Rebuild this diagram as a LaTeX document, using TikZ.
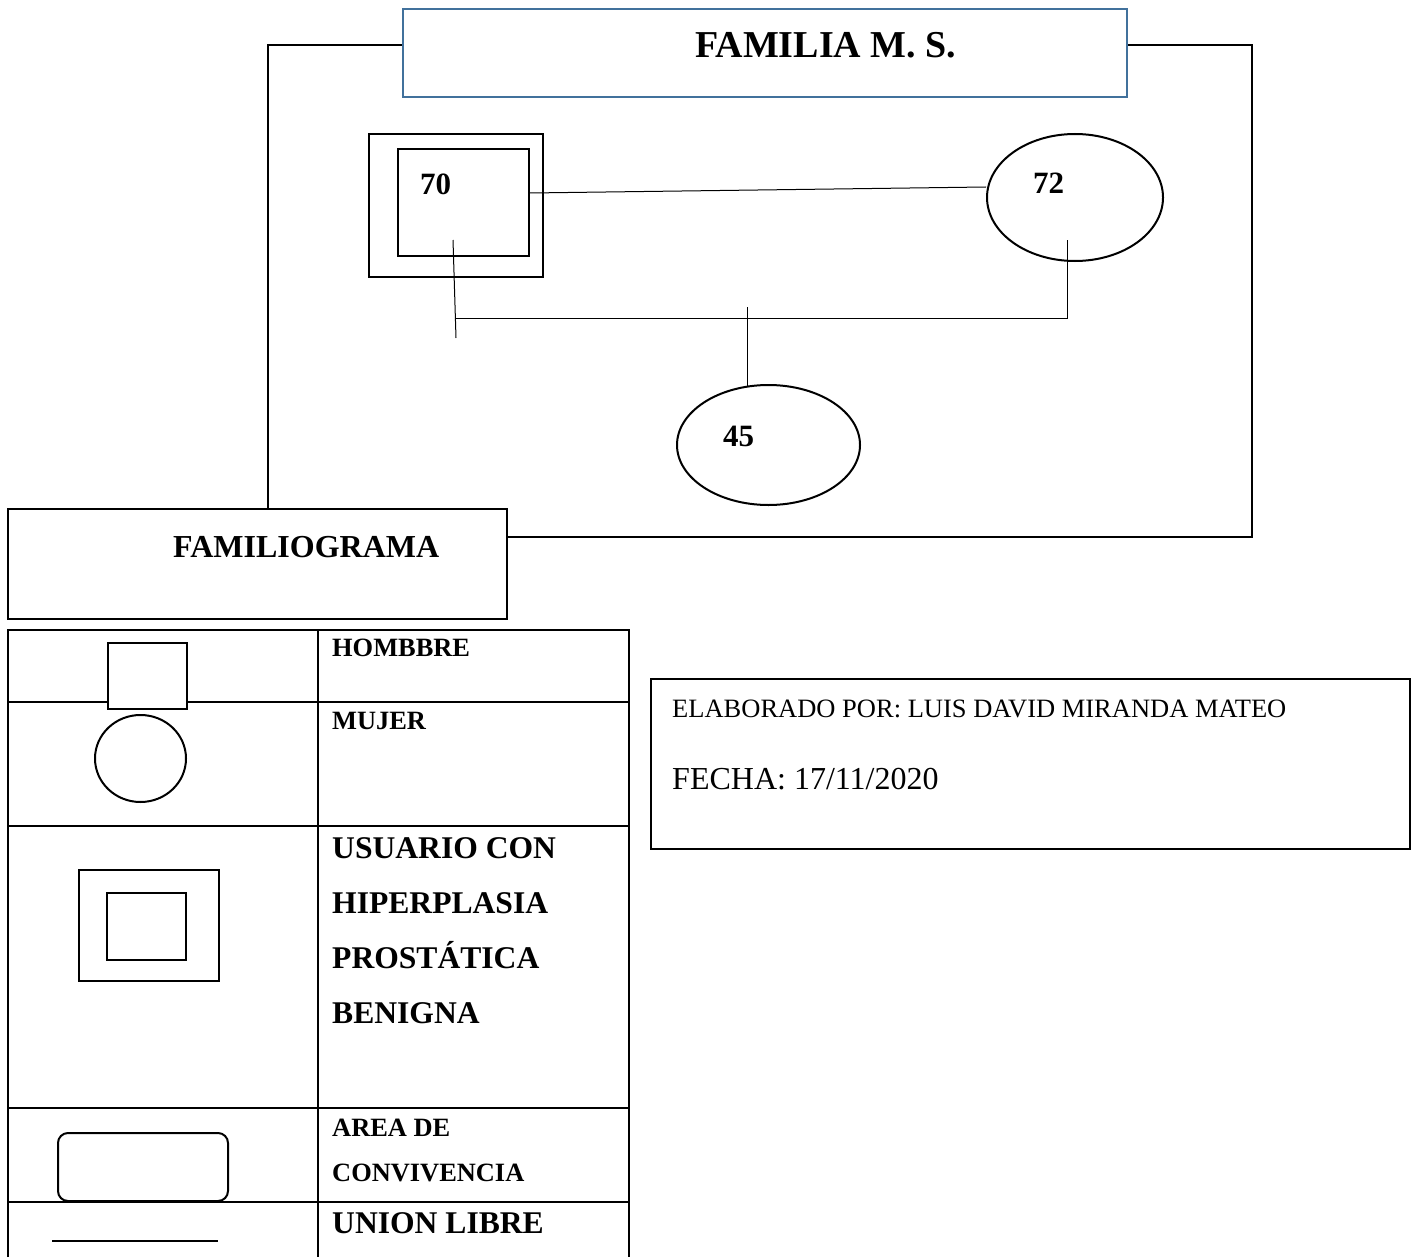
\documentclass[tikz,border=0pt]{standalone}
\usepackage{fontspec}
\setmainfont{Liberation Serif}
\usetikzlibrary{shapes.geometric}
\definecolor{titleblue}{RGB}{65,113,156}
\begin{document}
\begin{tikzpicture}[x=1pt,y=-1pt,
  frame/.style={line width=2pt},
  conn/.style={line width=1pt},
  box/.style={draw, line width=2pt, rectangle, inner sep=0pt, fill=white},
  oval/.style={draw, line width=2pt, ellipse, inner sep=0pt},
  lbl/.style={anchor=base west, inner sep=0pt, font={\bfseries\fontsize{#1}{#1}\selectfont}},
  plain/.style={anchor=base west, inner sep=0pt, font={\fontsize{#1}{#1}\selectfont}}]
\useasboundingbox (0,0) rectangle (1412,1257);

% --- frame ---
\node[box, draw=titleblue, minimum width=724, minimum height=88] (title) at (765,53) {};
\node[box, minimum width=499, minimum height=110] (fam) at (257.5,564) {};
\coordinate (tl) at (268,45);
\coordinate (tr) at (1252,45);
\coordinate (br) at (1252,537);
\draw[frame] (fam.north -| tl) -- (tl) -- (tl -| title.west);
\draw[frame] (title.east |- tr) -- (tr) -- (br) -- (br -| fam.east);
\node[lbl=38] (titletext) at (695,58) {FAMILIA M. S.};
\node[lbl=32] (famtext) at (173,557) {FAMILIOGRAMA};

% --- family members ---
\node[box, minimum width=174, minimum height=143] (p70out) at (456,205.5) {};
\node[box, minimum width=131, minimum height=107] (p70) at (463.5,202.5) {};
\node[oval, minimum width=176, minimum height=127] (p72) at (1075,197.5) {};
\node[oval, minimum width=183, minimum height=120] (p45) at (768.5,445) {};
\node[lbl=31] (t70) at (420,195) {70};
\node[lbl=31] (t72) at (1033,194) {72};
\node[lbl=31] (t45) at (723,446) {45};

% --- connectors ---
\draw[conn] ([yshift=9.5pt]p70.east) -- ([yshift=10.5pt]p72.west);
\coordinate (a1) at (453,240);
\coordinate (a2) at (456,338);
\coordinate (h1) at (456,318);
\coordinate (h2) at (1067,318);
\coordinate (b1) at (1067,240);
\coordinate (m1) at (747,307);
\coordinate (m2) at (747,386);
\draw[conn] (a1) -- (a2);
\draw[conn] (h1) -- (h2) -- (b1);
\draw[conn] (m1) -- (m2);

% --- legend table ---
\draw[frame] (8,1257) -- (8,630) -- (629,630) -- (629,1257);
\draw[frame] (318,630) -- (318,1257);
\draw[frame] (8,702) -- (629,702);
\draw[frame] (8,826) -- (629,826);
\draw[frame] (8,1108) -- (629,1108);
\draw[frame] (8,1202) -- (629,1202);

\node[box, minimum width=79, minimum height=66] (lgH) at (147.5,676) {};
\node[oval, minimum width=91, minimum height=87] (lgM) at (140.5,758.5) {};
\node[box, minimum width=140, minimum height=111] (lgUo) at (149,925.5) {};
\node[box, minimum width=79, minimum height=67] (lgUi) at (146.5,926.5) {};
\node[box, rounded corners=10pt, minimum width=170, minimum height=68] (lgA) at (143,1167) {};
\coordinate (u1) at (52,1241);
\coordinate (u2) at (218,1241);
\draw[line width=1.5pt] (u1) -- (u2);

\node[lbl=26.4] at (332,656) {HOMBBRE};
\node[lbl=26.4] at (332,729) {MUJER};
\node[lbl=31.6] at (332,858) {USUARIO CON};
\node[lbl=31.6] at (332,913) {HIPERPLASIA};
\node[lbl=31.6] at (332,968) {PROSTÁTICA};
\node[lbl=31.6] at (332,1023) {BENIGNA};
\node[lbl=26.4] at (332,1136) {AREA DE};
\node[lbl=26.4] at (332,1181) {CONVIVENCIA};
\node[lbl=31.6] at (332,1233) {UNION LIBRE};

% --- author box ---
\node[box, minimum width=759, minimum height=170] (author) at (1030.5,764) {};
\node[plain=26.5] at (672,717) {ELABORADO POR: LUIS DAVID MIRANDA MATEO};
\node[plain=32] at (672,789) {FECHA: 17/11/2020};
\end{tikzpicture}
\end{document}
